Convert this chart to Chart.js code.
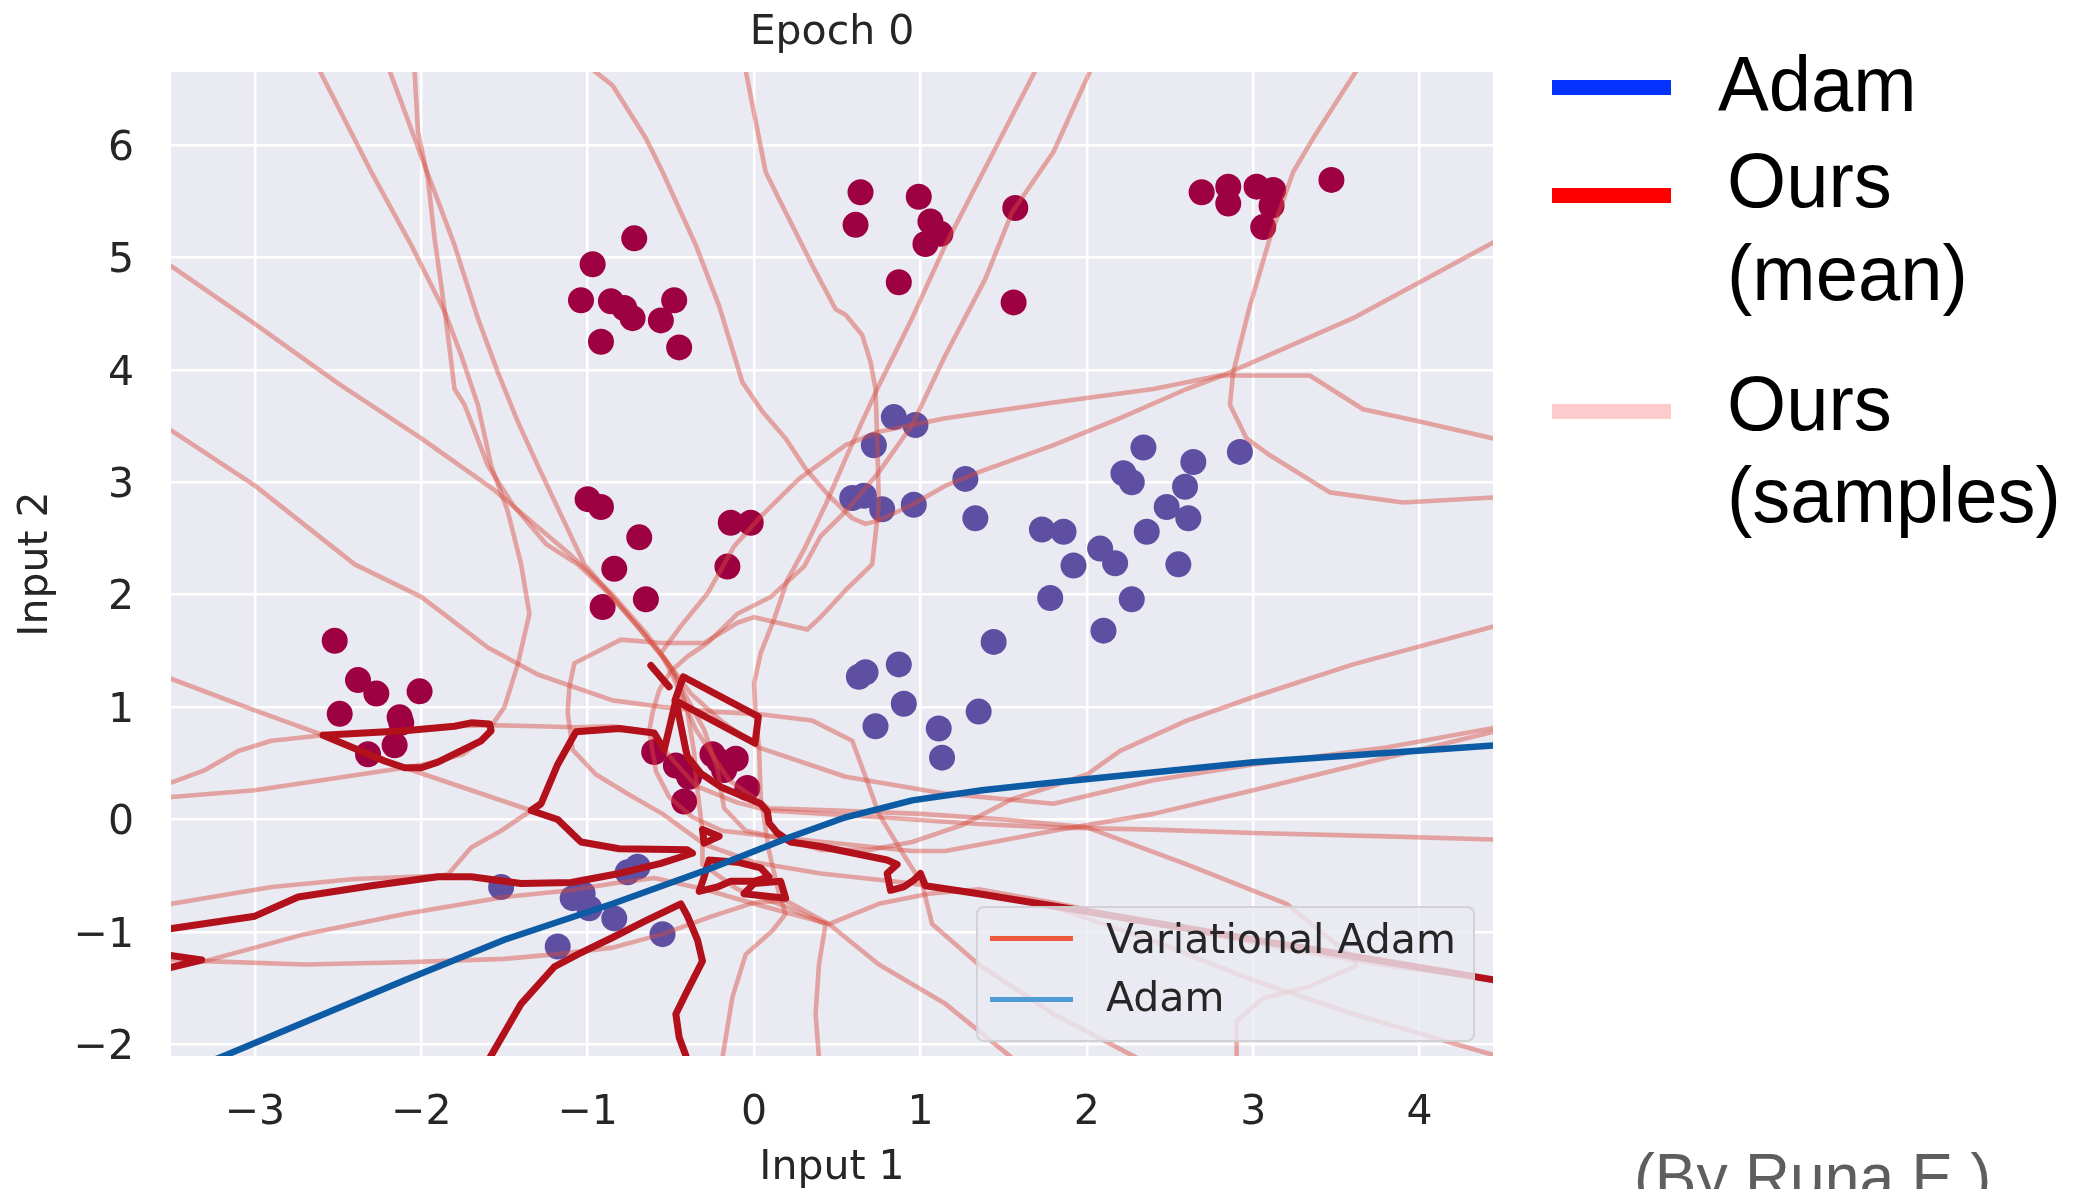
<!DOCTYPE html>
<html>
<head>
<meta charset="utf-8">
<title>Epoch 0</title>
<script src="https://cdn.jsdelivr.net/npm/chart.js@4/dist/chart.umd.min.js"></script>
<style>
  html, body { margin:0; padding:0; background:#ffffff; overflow:hidden; }
  #wrap { position:relative; width:2082px; height:1189px; overflow:hidden; background:#fff; }
  #chart { position:absolute; left:0; top:0; }
  .t { position:absolute; white-space:nowrap; }
  .big { font-family:"Liberation Sans", Arial, Helvetica, sans-serif; font-size:78px; line-height:78px; color:#000; transform:scaleX(0.975); transform-origin:0 0; }
  .sw { position:absolute; left:1552px; width:119px; height:15px; }
  .lg { font-family:"DejaVu Sans", sans-serif; font-size:41px; line-height:41px; color:#262626; }
  .credit { font-family:"Liberation Sans", Arial, sans-serif; font-size:64px; line-height:64px; color:#5e5e5e; transform:scaleX(0.975); transform-origin:0 0; }
</style>
</head>
<body>
<div id="wrap">
  <canvas id="chart" width="2082" height="1189"></canvas>

  <!-- legend inside the axes (matplotlib style) -->
  <div style="position:absolute;left:976px;top:906px;width:495px;height:132px;background:rgba(234,234,242,0.8);border:2px solid rgba(204,204,204,0.8);border-radius:8px;"></div>
  <div style="position:absolute;left:990px;top:936px;width:83px;height:5px;background:#ee5a40;"></div>
  <div class="t lg" style="left:1106px;top:919px;">Variational Adam</div>
  <div style="position:absolute;left:990px;top:997px;width:83px;height:5px;background:#4e9bd6;"></div>
  <div class="t lg" style="left:1106px;top:977px;">Adam</div>

  <!-- big legend on the right -->
  <div class="sw" style="top:80px;background:#0433ff;"></div>
  <div class="t big" style="left:1718px;top:45px;">Adam</div>
  <div class="sw" style="top:188px;background:#ff0000;"></div>
  <div class="t big" style="left:1727px;top:141px;">Ours</div>
  <div class="t big" style="left:1727px;top:234px;">(mean)</div>
  <div class="sw" style="top:404px;background:#fdcbcb;"></div>
  <div class="t big" style="left:1727px;top:364px;">Ours</div>
  <div class="t big" style="left:1727px;top:456px;">(samples)</div>

  <div class="t credit" style="left:1634px;top:1145px;">(By Runa E.)</div>
</div>

<script>
// ---------------- data ----------------
const xTickValues = [-3, -2, -1, 0, 1, 2, 3, 4];
const yTickValues = [-2, -1, 0, 1, 2, 3, 4, 5, 6];
const xMin = -3.504, xMax = 4.441;
const yMin = -2.104, yMax = 6.65;

// class 0 (red) training points
const redPoints = [
  [-1.04,4.62],[-0.86,4.61],[-0.78,4.55],[-0.73,4.46],[-0.56,4.44],[-0.48,4.62],[-0.92,4.25],[-0.45,4.20],[-0.72,5.17],[-0.97,4.94],
  [0.64,5.58],[0.61,5.29],[0.99,5.54],[1.06,5.32],[1.12,5.21],[1.03,5.12],[0.87,4.78],[1.57,5.44],[1.56,4.60],
  [2.69,5.58],[2.85,5.63],[2.85,5.48],[3.02,5.63],[3.12,5.60],[3.11,5.46],[3.06,5.27],[3.47,5.69],
  [-1.0,2.85],[-0.92,2.78],[-0.69,2.51],[-0.84,2.23],[-0.91,1.89],[-0.65,1.96],[-0.16,2.25],[-0.14,2.64],[-0.02,2.64],
  [-0.60,0.60],[-0.47,0.48],[-0.42,0.45],[-0.39,0.38],[-0.25,0.58],[-0.18,0.44],[-0.11,0.54],[-0.04,0.28],[-0.42,0.16],[-0.21,0.52],
  [-2.52,1.59],[-2.38,1.24],[-2.27,1.12],[-2.01,1.14],[-2.49,0.94],[-2.13,0.91],[-2.12,0.86],[-2.16,0.66],[-2.32,0.58]
];
// class 1 (blue) training points
const bluePoints = [
  [1.73,2.58],[1.86,2.56],[1.92,2.26],[2.08,2.41],[2.17,2.28],[2.27,1.96],[2.10,1.68],[1.78,1.97],[2.36,2.56],
  [2.48,2.78],[2.59,2.96],[2.61,2.68],[2.55,2.27],[2.64,3.18],[2.34,3.31],[2.22,3.08],[2.27,3.00],[2.92,3.27],
  [0.84,3.58],[0.97,3.51],[0.72,3.33],[0.59,2.86],[0.66,2.88],[0.77,2.76],[0.96,2.80],[1.27,3.03],[1.33,2.68],
  [-1.52,-0.60],[-1.09,-0.70],[-1.03,-0.66],[-0.99,-0.79],[-0.84,-0.88],[-0.76,-0.47],[-0.70,-0.42],[-1.18,-1.13],[-0.55,-1.02],
  [0.63,1.27],[0.67,1.31],[0.87,1.38],[0.90,1.03],[0.73,0.83],[1.11,0.81],[1.13,0.55],[1.35,0.96],[1.44,1.58]
];

// Adam decision boundary
const adamBoundary = [[-3.35,-2.2],[-3.18,-2.10],[-2.10,-1.43],[-1.50,-1.07],[-0.85,-0.75],[-0.25,-0.43],[0.21,-0.16],[0.55,0.02],[0.95,0.17],[1.37,0.26],[1.80,0.33],[3.0,0.51],[4.5,0.665]];

// Variational Adam mean boundary (several contour pieces)
const meanContour1 = [[-3.6,-1.0],[-3.5,-0.97],[-3.0,-0.86],[-2.74,-0.69],[-2.30,-0.59],[-1.90,-0.51],[-1.70,-0.51],[-1.40,-0.57],[-1.10,-0.56],[-0.81,-0.48],[-0.56,-0.39],[-0.37,-0.30],[-0.40,-0.27],[-0.81,-0.26],[-1.04,-0.20],[-1.18,0.0],[-1.34,0.08],[-1.28,0.14],[-1.18,0.49],[-1.07,0.78],[-0.81,0.81],[-0.60,0.77],[-0.54,0.62],[-0.47,1.06],[-0.41,0.62],[-0.40,0.56],[-0.32,0.41],[-0.20,0.29],[-0.04,0.19],[0.04,0.14],[0.08,0.07],[0.09,-0.03],[0.14,-0.12],[0.22,-0.20],[0.40,-0.24],[0.60,-0.30],[0.80,-0.36],[0.86,-0.40],[0.80,-0.48],[0.82,-0.63],[0.90,-0.60],[0.96,-0.54],[1.00,-0.48],[1.03,-0.59],[1.35,-0.66],[1.80,-0.77],[4.5,-1.44]];
const meanContour2 = [[-2.59,0.75],[-2.10,0.79],[-1.80,0.83],[-1.70,0.86],[-1.59,0.85],[-1.58,0.79],[-1.64,0.70],[-1.90,0.51],[-2.0,0.46],[-2.10,0.46],[-2.22,0.52],[-2.59,0.75]];
const meanContour3 = [[-0.475,1.06],[-0.425,1.27],[0.026,0.915],[0.006,0.678],[-0.475,1.06]];
const meanContour4 = [[-0.62,1.37],[-0.51,1.18]];
const meanContour5 = [[-3.6,-1.19],[-3.32,-1.25],[-3.6,-1.35]];
const meanContour6 = [[-1.62,-2.2],[-1.58,-2.10],[-1.40,-1.64],[-1.20,-1.31],[-1.06,-1.20],[-0.85,-1.05],[-0.65,-0.90],[-0.44,-0.75],[-0.40,-0.86],[-0.34,-1.07],[-0.31,-1.26],[-0.41,-1.55],[-0.47,-1.73],[-0.45,-1.94],[-0.41,-2.10],[-0.40,-2.2]];
const meanContour7 = [[-0.27,-0.36],[-0.10,-0.38],[0.04,-0.43],[0.09,-0.51],[0.0,-0.55],[-0.14,-0.55],[-0.22,-0.60],[-0.33,-0.64],[-0.30,-0.51],[-0.27,-0.36]];
const meanContour8 = [[-0.06,-0.66],[0.0,-0.57],[0.16,-0.55],[0.19,-0.70],[-0.06,-0.66]];
const meanContour9 = [[-0.31,-0.09],[-0.21,-0.15],[-0.30,-0.21],[-0.31,-0.09]];

// sampled boundaries
const sample01 = [[-3.5,4.92],[-3.0,4.41],[-2.5,3.88],[-2.0,3.39],[-1.56,2.93],[-1.10,2.35],[-0.85,2.0],[-0.65,1.66],[-0.52,1.40],[-0.45,1.22],[-0.40,0.95],[-0.36,0.60],[-0.35,0.38],[-0.31,-0.10],[-0.31,-0.40],[-0.10,-0.62],[0.20,-0.78],[0.43,-0.93],[0.39,-1.29],[0.37,-1.73],[0.39,-2.12]];
const sample02 = [[-3.5,3.46],[-3.0,2.97],[-2.40,2.27],[-2.0,1.98],[-1.60,1.53],[-1.30,1.29],[-0.85,1.06],[-0.55,1.0],[-0.25,0.96],[0.01,0.94],[0.35,0.88],[0.59,0.70],[0.67,0.38],[0.75,0.05],[0.91,-0.34],[1.01,-0.57],[1.07,-0.93],[1.35,-1.29],[1.80,-1.73],[2.30,-2.12]];
const sample03 = [[-2.61,6.66],[-2.30,5.76],[-2.06,5.11],[-1.86,4.52],[-1.76,4.13],[-1.66,3.69],[-1.58,3.15],[-1.48,2.74],[-1.40,2.27],[-1.35,1.83],[-1.42,1.38],[-1.50,1.0],[-1.58,0.83],[-1.62,0.72],[-1.75,0.58],[-1.95,0.50],[-2.10,0.46],[-2.60,0.35],[-3.0,0.26],[-3.5,0.20]];
const sample04 = [[-2.19,6.66],[-1.98,5.82],[-1.80,5.11],[-1.66,4.46],[-1.54,3.98],[-1.42,3.54],[-1.30,3.15],[-1.16,2.71],[-1.02,2.27],[-0.85,1.98],[-0.68,1.68],[-0.55,1.45],[-0.47,1.30],[-0.38,1.12],[-0.20,0.88],[0.03,0.64],[0.55,0.38],[1.15,0.23],[1.80,0.14],[2.40,0.35],[3.0,0.49],[3.80,0.64],[4.5,0.83]];
const sample05 = [[-2.04,6.66],[-2.02,6.12],[-1.96,5.70],[-1.92,5.17],[-1.88,4.75],[-1.84,4.31],[-1.80,3.83],[-1.74,3.69],[-1.60,3.15],[-1.45,2.80],[-1.25,2.45],[-1.06,2.27],[-0.88,2.02],[-0.70,1.72],[-0.58,1.50],[-0.50,1.35],[-0.43,1.15],[-0.30,0.80],[-0.22,0.45],[-0.18,0.10],[-0.05,-0.10],[0.20,-0.18],[0.40,-0.27],[0.70,-0.27],[0.95,-0.20],[1.25,-0.05],[1.55,0.18],[1.80,0.30],[2.0,0.40],[2.20,0.61],[2.60,0.88],[3.0,1.09],[3.60,1.38],[4.5,1.74]];
const sample06 = [[-0.96,6.66],[-0.85,6.53],[-0.65,6.06],[-0.55,5.76],[-0.35,5.11],[-0.21,4.57],[-0.07,3.89],[0.05,3.63],[0.19,3.39],[0.31,3.12],[0.45,2.88],[0.59,2.68],[0.67,2.63],[0.75,2.66],[0.95,2.80],[1.15,2.97],[1.35,3.09],[1.80,3.33],[2.20,3.57],[2.60,3.83],[2.80,3.94],[3.60,4.46],[4.5,5.18]];
const sample07 = [[-0.05,6.66],[0.01,6.21],[0.07,5.76],[0.15,5.52],[0.35,4.93],[0.49,4.54],[0.55,4.49],[0.65,4.31],[0.70,4.07],[0.73,3.83],[0.74,3.39],[0.75,2.80],[0.71,2.27],[0.55,2.04],[0.40,1.80],[0.32,1.69],[0.0,1.80],[-0.10,1.75],[-0.30,1.57],[-0.56,1.57],[-0.80,1.60],[-1.0,1.45],[-1.08,1.39],[-1.11,1.18],[-1.12,0.95],[-1.09,0.62],[-0.95,0.40],[-0.75,0.22],[-0.55,0.05],[-0.30,-0.22],[0.0,-0.38],[0.40,-0.48],[0.90,-0.56],[1.35,-0.65],[1.80,-0.78],[2.40,-1.08],[3.0,-1.43],[3.60,-1.73],[4.5,-2.12]];
const sample08 = [[-3.5,1.25],[-3.0,0.97],[-2.59,0.75],[-2.10,0.46],[-1.70,0.26],[-1.34,0.08],[-1.52,-0.10],[-1.70,-0.25],[-1.84,-0.49],[-1.90,-0.50],[-2.40,-0.53],[-2.90,-0.60],[-3.5,-0.75]];
const sample09 = [[-3.5,0.33],[-3.30,0.44],[-3.10,0.61],[-2.90,0.70],[-2.59,0.75],[-2.10,0.79],[-1.80,0.83],[-1.58,0.84],[-1.30,0.83],[-1.08,0.82],[-0.85,0.83],[-0.62,0.78],[-0.50,0.55],[-0.35,0.30],[-0.10,0.15],[0.09,0.08],[0.75,0.02],[1.35,-0.04],[1.80,-0.07],[2.4,-0.09],[3.0,-0.12],[3.8,-0.15],[4.5,-0.18]];
const sample10 = [[-3.5,-1.22],[-3.30,-1.26],[-2.70,-1.02],[-2.10,-0.84],[-1.50,-0.69],[-1.10,-0.63],[-0.85,-0.57],[-0.60,-0.52],[-0.30,-0.62],[0.0,-0.75],[0.25,-0.85],[0.45,-0.93],[0.75,-0.75],[1.05,-0.66],[1.35,-0.62],[1.80,-0.74],[2.5,-0.95],[3.2,-1.15],[3.8,-1.30],[4.5,-1.43]];
const sample11 = [[-3.5,-1.25],[-3.30,-1.26],[-2.7,-1.29],[-2.1,-1.27],[-1.5,-1.24],[-1.2,-1.20],[-0.85,-1.14],[-0.55,-1.02],[-0.25,-0.86],[0.0,-0.74],[0.19,-0.72],[0.45,-0.93],[0.75,-1.29],[1.15,-1.64],[1.55,-2.12]];
const sample12 = [[1.69,6.66],[1.45,5.97],[1.15,5.11],[0.95,4.46],[0.75,3.86],[0.65,3.54],[0.55,3.21],[0.43,2.80],[0.30,2.40],[0.20,2.13],[0.12,1.78],[0.04,1.48],[0.0,1.21],[0.01,0.91],[0.03,0.64],[0.04,0.20],[0.09,-0.28],[0.15,-0.66],[0.19,-0.84],[0.11,-0.99],[-0.05,-1.20],[-0.13,-1.58],[-0.19,-2.12]];
const sample13 = [[2.02,6.66],[1.80,5.94],[1.55,5.40],[1.39,4.81],[1.15,4.13],[0.95,3.51],[0.75,3.09],[0.55,2.74],[0.40,2.52],[0.30,2.25],[0.10,1.98],[-0.10,1.83],[-0.28,1.57],[-0.40,1.45],[-0.50,1.32],[-0.57,1.15],[-0.61,0.95],[-0.63,0.79],[-0.59,0.43],[-0.51,0.20],[-0.37,0.02],[-0.19,-0.10],[0.15,-0.16],[0.55,-0.22],[0.95,-0.28],[1.15,-0.28],[1.80,-0.10],[2.40,0.05],[3.0,0.26],[3.80,0.55],[4.5,0.80]];
const sample14 = [[2.90,-2.12],[2.90,-1.79],[3.06,-1.59],[3.33,-1.49],[3.62,-1.30],[3.60,-1.23],[3.20,-0.75],[2.60,-0.40],[2.0,-0.07],[1.5,0.0],[1.0,0.05],[0.5,0.08],[0.09,0.10],[-0.15,0.35],[-0.35,0.8],[-0.48,1.25],[-0.56,1.48],[-0.44,1.72],[-0.28,2.01],[-0.12,2.43],[0.05,2.71],[0.27,3.03],[0.55,3.33],[0.75,3.45],[1.15,3.57],[1.80,3.71],[2.40,3.83],[2.80,3.95],[3.34,3.95],[3.66,3.65],[4.0,3.54],[4.5,3.37]];
const sample15 = [[3.62,6.66],[3.36,6.06],[3.24,5.76],[3.10,5.17],[2.98,4.57],[2.88,3.98],[2.86,3.69],[2.96,3.39],[3.10,3.24],[3.46,2.91],[3.90,2.82],[4.5,2.87]];

const sampleLines = [sample01, sample02, sample03, sample04, sample05, sample06, sample07, sample08, sample09, sample10, sample11, sample12, sample13, sample14, sample15];
const meanLines = [meanContour1, meanContour2, meanContour3, meanContour4, meanContour5, meanContour6, meanContour7, meanContour8, meanContour9];

// ---------------- chart ----------------
const toXY = arr => arr.map(p => ({ x: p[0], y: p[1] }));
const minus = v => String(v).replace('-', '\u2212');

const datasets = [];
datasets.push({ label: 'class 0', data: toXY(redPoints), showLine: false, pointRadius: 13, pointHoverRadius: 13, pointBackgroundColor: '#9e0142', pointBorderWidth: 0, order: 100 });
datasets.push({ label: 'class 1', data: toXY(bluePoints), showLine: false, pointRadius: 13, pointHoverRadius: 13, pointBackgroundColor: '#5e4fa2', pointBorderWidth: 0, order: 100 });
sampleLines.forEach((s, i) => datasets.push({
  label: 'Ours (samples) ' + (i + 1), data: toXY(s), showLine: true, pointRadius: 0, pointHoverRadius: 0,
  borderColor: 'rgba(216,76,62,0.45)', borderWidth: 4.6, borderJoinStyle: 'round', borderCapStyle: 'round', tension: 0, clip: 0, order: 50
}));
meanLines.forEach((s, i) => datasets.push({
  label: 'Ours (mean) ' + (i + 1), data: toXY(s), showLine: true, pointRadius: 0, pointHoverRadius: 0,
  borderColor: '#b2101a', borderWidth: 7, borderJoinStyle: 'round', borderCapStyle: 'round', tension: 0, clip: 0, order: 10
}));
datasets.push({ label: 'Adam', data: toXY(adamBoundary), showLine: true, pointRadius: 0, pointHoverRadius: 0,
  borderColor: '#0c5ba4', borderWidth: 6.5, borderCapStyle: 'round', tension: 0, clip: 0, order: 5 });

const plotBackground = {
  id: 'plotBackground',
  beforeDraw(chart) {
    const { ctx, chartArea: a } = chart;
    ctx.save();
    ctx.fillStyle = '#eaeaf2';
    ctx.fillRect(a.left, a.top, a.right - a.left, a.bottom - a.top);
    ctx.restore();
  }
};

Chart.defaults.font.family = "'DejaVu Sans', sans-serif";
const textColor = '#262626';

new Chart(document.getElementById('chart'), {
  type: 'scatter',
  data: { datasets },
  options: {
    responsive: false,
    animation: false,
    devicePixelRatio: 1,
    events: [],
    layout: { padding: { left: 0, right: 589, top: 0, bottom: 0 } },
    plugins: {
      legend: { display: false },
      tooltip: { enabled: false },
      title: {
        display: true, text: 'Epoch 0', fullSize: false, color: textColor,
        font: { family: "'DejaVu Sans', sans-serif", size: 41, weight: 'normal', lineHeight: 1 },
        padding: { top: 13, bottom: 18 }
      }
    },
    scales: {
      x: {
        type: 'linear', min: xMin, max: xMax,
        afterBuildTicks: s => { s.ticks = xTickValues.map(v => ({ value: v })); },
        afterFit: s => { s.height = 133; },
        grid: { color: '#ffffff', lineWidth: 2.5, drawTicks: false },
        border: { display: false },
        ticks: { padding: 33, color: textColor, autoSkip: false, maxRotation: 0, font: { size: 41 }, callback: v => minus(v) },
        title: { display: true, text: 'Input 1', color: textColor, font: { size: 41, lineHeight: 1 }, padding: { top: 0, bottom: 0 } }
      },
      y: {
        type: 'linear', min: yMin, max: yMax,
        afterBuildTicks: s => { s.ticks = yTickValues.map(v => ({ value: v })); },
        afterFit: s => { s.width = 171; },
        grid: { color: '#ffffff', lineWidth: 2.5, drawTicks: false },
        border: { display: false },
        ticks: { padding: 37, labelOffset: 4, color: textColor, autoSkip: false, font: { size: 41 }, callback: v => minus(v) },
        title: { display: true, text: 'Input 2', color: textColor, font: { size: 41, lineHeight: 1 }, padding: { top: 16, bottom: 0 } }
      }
    }
  },
  plugins: [plotBackground]
});
</script>
</body>
</html>
